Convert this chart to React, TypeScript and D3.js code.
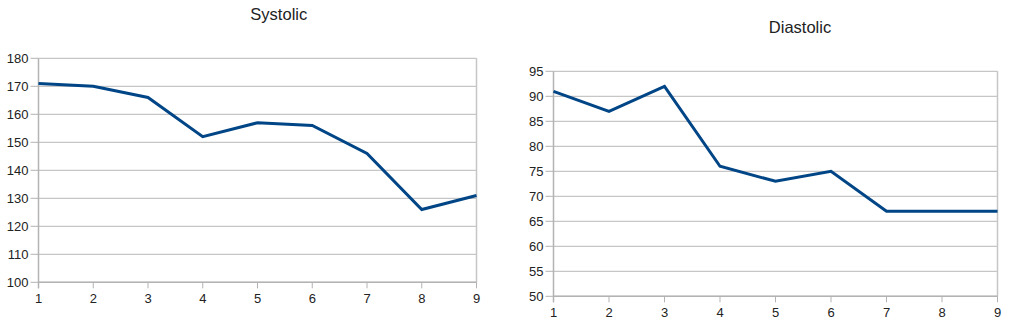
import React from "react";
import * as d3 from "d3";

const xValues = [1, 2, 3, 4, 5, 6, 7, 8, 9];
const systolic = [171, 170, 166, 152, 157, 156, 146, 126, 131];
const diastolic = [91, 87, 92, 76, 73, 75, 67, 67, 67];
const systolicTicks = [100, 110, 120, 130, 140, 150, 160, 170, 180];
const diastolicTicks = [50, 55, 60, 65, 70, 75, 80, 85, 90, 95];

const FONT = "'Liberation Sans', Arial, sans-serif";
const LINE = "#004586";
const GRID = "#c6c6c6";
const AXIS = "#b3b3b3";
const TEXT = "#222";

type PanelProps = {
  title: string;
  titleX: number;
  titleY: number;
  values: number[];
  ticks: number[];
  x0: number;
  x1: number;
  y0: number;
  y1: number;
};

function Panel({ title, titleX, titleY, values, ticks, x0, x1, y0, y1 }: PanelProps) {
  const x = d3.scaleLinear().domain([1, 9]).range([x0, x1]);
  const y = d3
    .scaleLinear()
    .domain([ticks[0], ticks[ticks.length - 1]])
    .range([y1, y0]);
  const line = d3
    .line<number>()
    .x((_, i) => x(xValues[i]))
    .y((d) => y(d));
  return (
    <g>
      <text x={titleX} y={titleY} textAnchor="middle" fontSize={16.5} fontFamily={FONT} fill={TEXT}>
        {title}
      </text>
      {ticks.map((t) => (
        <g key={"y" + t}>
          <line x1={x0} x2={x1} y1={y(t)} y2={y(t)} stroke={GRID} strokeWidth={1.2} />
          <line x1={x0 - 8} x2={x0} y1={y(t)} y2={y(t)} stroke={AXIS} strokeWidth={1} />
          <text
            x={x0 - 10}
            y={y(t)}
            dy="0.35em"
            textAnchor="end"
            fontSize={13}
            fontFamily={FONT}
            fill={TEXT}
          >
            {t}
          </text>
        </g>
      ))}
      <line x1={x1} x2={x1} y1={y0} y2={y1} stroke={GRID} strokeWidth={1.5} />
      <line x1={x0} x2={x0} y1={y0} y2={y1 + 6} stroke={AXIS} strokeWidth={1.5} />
      <line x1={x0} x2={x1} y1={y1} y2={y1} stroke={AXIS} strokeWidth={1.5} />
      {xValues.map((v) => (
        <g key={"x" + v}>
          <line x1={x(v)} x2={x(v)} y1={y1} y2={y1 + 6} stroke={AXIS} strokeWidth={1} />
          <text
            x={x(v)}
            y={y1 + 21}
            textAnchor="middle"
            fontSize={13}
            fontFamily={FONT}
            fill={TEXT}
          >
            {v}
          </text>
        </g>
      ))}
      <path
        d={line(values) ?? ""}
        fill="none"
        stroke={LINE}
        strokeWidth={3}
        strokeLinejoin="miter"
      />
    </g>
  );
}

export default function App() {
  return (
    <svg
      width={1022}
      height={330}
      style={{ position: "absolute", left: 0, top: 0, background: "#fff" }}
    >
      <rect width={1022} height={330} fill="#fff" />
      <Panel
        title="Systolic"
        titleX={278.8}
        titleY={20}
        values={systolic}
        ticks={systolicTicks}
        x0={38.5}
        x1={476.5}
        y0={58.3}
        y1={282.3}
      />
      <Panel
        title="Diastolic"
        titleX={800}
        titleY={33.3}
        values={diastolic}
        ticks={diastolicTicks}
        x0={553.5}
        x1={997.5}
        y0={71.3}
        y1={296.3}
      />
    </svg>
  );
}
